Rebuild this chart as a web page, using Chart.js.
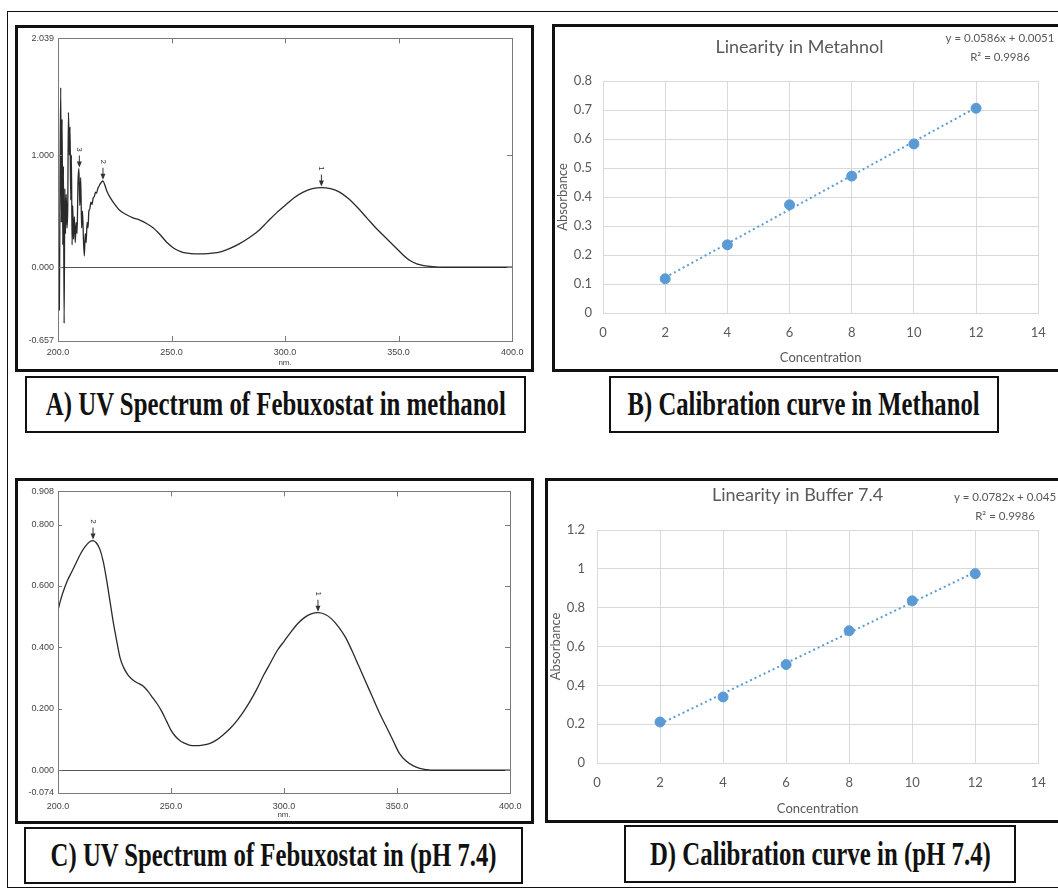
<!DOCTYPE html>
<html>
<head>
<meta charset="utf-8">
<script src="https://cdn.jsdelivr.net/npm/chart.js@4/dist/chart.umd.min.js"></script>
<style>
  html,body{margin:0;padding:0;background:#fff;}
  body{width:1058px;height:890px;overflow:hidden;position:relative;}
  .frame{position:absolute;left:7px;top:11px;width:1070px;height:877px;border:1.5px solid #111;box-sizing:border-box;}
  .panel{position:absolute;border:3px solid #111;box-sizing:border-box;background:#fff;}
  canvas{position:absolute;}
  .lbl{position:absolute;border:2.5px solid #111;box-sizing:border-box;background:#fff;display:flex;align-items:center;justify-content:center;overflow:visible;}
  .lbl span{display:inline-block;white-space:nowrap;font-family:"Liberation Serif","Times New Roman",serif;font-weight:bold;font-size:33px;color:#111;transform-origin:center center;line-height:1;}
</style>
</head>
<body>
<div class="frame"></div>

<div class="panel" style="left:15px;top:25px;width:519px;height:347px;"></div>
<div class="panel" style="left:552px;top:24px;width:520px;height:348px;"></div>
<div class="panel" style="left:15px;top:478px;width:519px;height:346px;"></div>
<div class="panel" style="left:545px;top:478px;width:530px;height:345px;"></div>

<canvas id="cA" width="511" height="339" style="left:19px;top:29px;"></canvas>
<canvas id="cB" width="503" height="342" style="left:555px;top:27px;"></canvas>
<canvas id="cC" width="511" height="338" style="left:19px;top:482px;"></canvas>
<canvas id="cD" width="510" height="339" style="left:548px;top:481px;"></canvas>

<div class="lbl" style="left:25px;top:376px;width:501px;height:57px;"><span data-w="460">A) UV Spectrum of Febuxostat in methanol</span></div>
<div class="lbl" style="left:609px;top:376px;width:390px;height:57px;"><span data-w="352">B) Calibration curve in Methanol</span></div>
<div class="lbl" style="left:24px;top:827px;width:499px;height:57px;"><span data-w="446">C) UV Spectrum of Febuxostat in (pH 7.4)</span></div>
<div class="lbl" style="left:624px;top:825px;width:392px;height:58px;"><span data-w="341">D) Calibration curve in (pH 7.4)</span></div>

<script>
// ---------- DATA ----------
// Panel A: UV spectrum in methanol
const wlA = [200.0,200.3,200.6,200.9,201.2,201.5,201.8,202.1,202.4,202.7,203.0,203.3,203.6,204.0,204.3,204.6,205.0,205.3,205.6,205.9,206.2,206.5,206.8,207.2,207.6,208.0,208.4,208.8,209.2,209.6,210.0,210.4,210.8,211.2,211.6,212.0,212.4,212.8,213.2,213.6,214.0,214.5,215.0,215.5,216.0,216.5,217.0,217.5,218.0,218.5,219.2,219.8,220.5,221.5,223,225,227,230,233,236,239,242,245,248,251,254,257,260,264,268,272,276,280,284,288,292,296,300,304,308,312,316,320,324,328,332,336,340,344,348,352,355,358,361,365,370,375,380,385,390,395,400];
const absA = [0.75,-0.20,-0.38,0.80,1.60,0.40,1.32,0.20,0.90,-0.50,
              0.70,0.30,0.65,0.35,0.55,1.38,1.00,1.25,0.60,1.00,
              0.20,0.55,0.25,0.45,0.22,0.40,0.30,0.75,0.88,0.55,
              0.80,0.35,0.50,0.25,0.10,0.30,0.22,0.40,0.35,0.50,
              0.52,0.58,0.56,0.62,0.63,0.67,0.66,0.70,0.72,0.74,
              0.76,0.77,0.74,0.68,0.62,0.56,0.51,0.47,0.44,0.42,
              0.39,0.35,0.29,0.22,0.17,0.14,0.125,0.12,0.12,0.125,
              0.14,0.17,0.21,0.26,0.32,0.40,0.48,0.55,0.62,0.67,
              0.70,0.71,0.70,0.67,0.61,0.53,0.44,0.35,0.27,0.19,
              0.11,0.06,0.03,0.015,0.005,0.0,0.0,0.0,0.0,0.0,
              0.0,0.0];
const peakNmA = [316, 219.8, 209.4];
const peakAbsA = [0.71, 0.77, 0.88];
const peakLblA = ['1','2','3'];
const yTicksA = [-0.657, 0.000, 1.000, 2.039];

// Panel C: UV spectrum in pH 7.4
const wlC = [200,201,202,204,206,208,210,212,214,215.5,217,218.5,220,221.5,223,224.5,226,227.5,229,231,233,235,237.5,240,242,244,246,248,250,252,254,256,258,261,264,267,270,273,276,279,282,285,288,291,294,297,300,303,306,309,312,315,318,321,324,327,330,333,336,339,342,345,348,351,354,357,360,363,366,370,380,390,400];
const absC = [0.52,0.55,0.575,0.615,0.645,0.675,0.705,0.728,0.744,0.748,
              0.74,0.72,0.68,0.62,0.55,0.48,0.42,0.365,0.335,0.31,
              0.295,0.285,0.275,0.255,0.235,0.215,0.19,0.16,0.13,0.11,
              0.096,0.088,0.082,0.08,0.082,0.087,0.098,0.115,0.135,0.16,
              0.19,0.225,0.265,0.31,0.35,0.39,0.42,0.45,0.477,0.497,
              0.509,0.513,0.508,0.493,0.468,0.435,0.39,0.34,0.29,0.24,
              0.19,0.145,0.1,0.055,0.03,0.015,0.006,0.002,0,0,
              0,0,0];
const peakNmC = [315, 215.5];
const peakAbsC = [0.513, 0.748];
const peakLblC = ['1','2'];
const yTicksC = [-0.074, 0.000, 0.200, 0.400, 0.600, 0.800, 0.908];

const xTicksSpec = [200, 250, 300, 350, 400];

// Panel B: calibration in methanol
const concB = [2, 4, 6, 8, 10, 12];
const absB = [0.118, 0.235, 0.373, 0.472, 0.583, 0.706];
const slopeB = 0.0586, interceptB = 0.0051;
const eqB = ['y = 0.0586x + 0.0051', 'R² = 0.9986'];
const titleB = 'Linearity in Metahnol';

// Panel D: calibration in buffer 7.4
const concD = [2, 4, 6, 8, 10, 12];
const absD = [0.211, 0.340, 0.507, 0.681, 0.835, 0.975];
const slopeD = 0.0782, interceptD = 0.045;
const eqD = ['y = 0.0782x + 0.045', 'R² = 0.9986'];
const titleD = 'Linearity in Buffer 7.4';

// ---------- PLUGINS ----------
const specDecor = {
  id: 'specDecor',
  afterDatasetsDraw(chart, args, o) {
    const {ctx, chartArea: a, scales: {x, y}} = chart;
    ctx.save();
    ctx.strokeStyle = '#7a7a7a';
    ctx.lineWidth = 1;
    ctx.strokeRect(Math.round(a.left) + 0.5, Math.round(a.top) + 0.5, Math.round(a.width), Math.round(a.height));
    ctx.beginPath();
    x.ticks.forEach(t => {
      if (t.value <= x.min || t.value >= x.max) return;
      const px = Math.round(x.getPixelForValue(t.value)) + 0.5;
      ctx.moveTo(px, a.top); ctx.lineTo(px, a.top + 5);
      ctx.moveTo(px, a.bottom); ctx.lineTo(px, a.bottom - 5);
    });
    y.ticks.forEach(t => {
      if (t.value <= y.min || t.value >= y.max) return;
      const py = Math.round(y.getPixelForValue(t.value)) + 0.5;
      ctx.moveTo(a.left, py); ctx.lineTo(a.left + 4, py);
      ctx.moveTo(a.right, py); ctx.lineTo(a.right - 5, py);
    });
    ctx.stroke();
    // peak markers
    ctx.fillStyle = '#333'; ctx.strokeStyle = '#333';
    (o.nm || []).forEach((nm, i) => {
      const px = x.getPixelForValue(nm), py = y.getPixelForValue(o.abs[i]);
      ctx.beginPath(); ctx.moveTo(px, py - 13); ctx.lineTo(px, py - 3); ctx.stroke();
      ctx.beginPath(); ctx.moveTo(px - 2.5, py - 7); ctx.lineTo(px + 2.5, py - 7); ctx.lineTo(px, py - 1); ctx.closePath(); ctx.fill();
      ctx.save();
      ctx.translate(px, py - 19);
      ctx.rotate(Math.PI / 2);
      ctx.font = '8px "Liberation Sans", Arial, sans-serif';
      ctx.textAlign = 'center'; ctx.textBaseline = 'middle';
      ctx.fillText(o.lbl[i], 0, 0);
      ctx.restore();
    });
    ctx.restore();
  }
};

const eqText = {
  id: 'eqText',
  afterDraw(chart, args, o) {
    const ctx = chart.ctx;
    ctx.save();
    ctx.font = '11.5px Lato, "Open Sans", sans-serif';
    ctx.fillStyle = '#595959';
    ctx.textAlign = 'center'; ctx.textBaseline = 'middle';
    o.lines.forEach((l, i) => ctx.fillText(l, o.cx, o.cy + i * o.dy));
    ctx.restore();
  }
};

Chart.defaults.animation = false;
Chart.defaults.responsive = false;
Chart.defaults.devicePixelRatio = 1;

// ---------- SPECTRA ----------
function specChart(id, wl, ab, yTicks, peaksNm, peaksAbs, peaksLbl, pad, tickPad) {
  const pts = wl.map((w, i) => ({x: w, y: ab[i]}));
  return new Chart(document.getElementById(id), {
    type: 'scatter',
    data: { datasets: [{ data: pts, showLine: true, pointRadius: 0, borderColor: '#2a2a2a', borderWidth: 1.3, cubicInterpolationMode: 'monotone' }] },
    options: {
      layout: { padding: pad },
      plugins: { legend: {display: false}, tooltip: {enabled: false},
        specDecor: { nm: peaksNm, abs: peaksAbs, lbl: peaksLbl } },
      scales: {
        x: {
          type: 'linear', min: 200, max: 400,
          afterBuildTicks: s => { s.ticks = xTicksSpec.map(v => ({value: v})); },
          afterFit: s => { s.height = 27; },
          ticks: { callback: v => Number(v).toFixed(1), font: {family: '"Liberation Sans", Arial, sans-serif', size: 9}, color: '#444', padding: tickPad, maxRotation: 0, autoSkip: false },
          grid: { display: false, drawTicks: false },
          border: { display: false },
          title: { display: true, text: 'nm.', font: {family: '"Liberation Sans", Arial, sans-serif', size: 8}, color: '#444', padding: 0 }
        },
        y: {
          type: 'linear', min: yTicks[0], max: yTicks[yTicks.length - 1],
          afterBuildTicks: s => { s.ticks = yTicks.map(v => ({value: v})); },
          afterFit: s => { s.width = 39; },
          ticks: { callback: v => Number(v).toFixed(3), font: {family: '"Liberation Sans", Arial, sans-serif', size: 9}, color: '#444', padding: 4, autoSkip: false },
          grid: { drawTicks: false, lineWidth: 1, color: c => (c.tick && c.tick.value === 0) ? '#555' : 'rgba(0,0,0,0)' },
          border: { display: false }
        }
      }
    },
    plugins: [specDecor]
  });
}

specChart('cA', wlA, absA, yTicksA, peakNmA, peakAbsA, peakLblA, {top: 6, right: 17, left: 0, bottom: 0}, 6.6);
specChart('cC', wlC, absC, yTicksC, peakNmC, peakAbsC, peakLblC, {top: 7, right: 18, left: 0, bottom: 0}, 8.6);

// ---------- CALIBRATION ----------
function calChart(id, conc, ab, slope, intercept, title, eq, cfg) {
  const pts = conc.map((c, i) => ({x: c, y: ab[i]}));
  const x0 = conc[0], x1 = conc[conc.length - 1];
  const fit = [{x: x0, y: slope * x0 + intercept}, {x: x1, y: slope * x1 + intercept}];
  const txt = {family: 'Lato, "Open Sans", sans-serif', size: 13};
  const fmt = v => String(parseFloat(Number(v).toFixed(2)));
  return new Chart(document.getElementById(id), {
    type: 'scatter',
    data: { datasets: [
      { data: pts, pointRadius: 5, pointHoverRadius: 5, backgroundColor: '#5B9BD5', borderColor: '#5B9BD5', order: 0 },
      { data: fit, showLine: true, pointRadius: 0, borderColor: '#5B9BD5', borderWidth: 2, borderDash: [2, 3], order: 1 }
    ]},
    options: {
      layout: { padding: {left: 0, top: 0, bottom: 0, right: cfg.padRight} },
      plugins: {
        legend: {display: false}, tooltip: {enabled: false},
        title: { display: true, text: title, color: '#595959', font: {family: 'Lato, "Open Sans", sans-serif', size: 18, weight: 'normal'}, padding: {top: cfg.tTop, bottom: cfg.tBottom} },
        eqText: { lines: eq, cx: cfg.eqX, cy: cfg.eqY, dy: 19 }
      },
      scales: {
        x: {
          type: 'linear', min: 0, max: 14,
          ticks: { stepSize: 2, font: txt, color: '#595959', padding: 12.2, maxRotation: 0, callback: fmt },
          afterFit: s => { s.height = cfg.xH; },
          grid: { color: '#D9D9D9', drawTicks: false, lineWidth: 1 },
          border: { display: true, color: '#D9D9D9' },
          title: { display: true, text: 'Concentration', font: txt, color: '#595959', padding: {top: 0, bottom: 3.2} }
        },
        y: {
          type: 'linear', min: 0, max: cfg.yMax,
          ticks: { stepSize: cfg.yStep, font: txt, color: '#595959', padding: cfg.yPad, callback: fmt },
          afterFit: s => { s.width = cfg.yW; },
          grid: { color: '#D9D9D9', drawTicks: false, lineWidth: 1 },
          border: { display: true, color: '#D9D9D9' },
          title: { display: true, text: 'Absorbance', font: txt, color: '#595959', padding: {top: 0, bottom: 0} }
        }
      }
    },
    plugins: [eqText]
  });
}

calChart('cB', concB, absB, slopeB, interceptB, titleB, eqB,
  {padRight: 14, tTop: 9, tBottom: 23.4, eqX: 445, eqY: 11, xH: 56, yMax: 0.8, yStep: 0.1, yPad: 11, yW: 48});
calChart('cD', concD, absD, slopeD, interceptD, titleD, eqD,
  {padRight: 11, tTop: 3.2, tBottom: 24.2, eqX: 457, eqY: 16, xH: 57, yMax: 1.2, yStep: 0.2, yPad: 12, yW: 49});

// ---------- Caption boxes: fit condensed bold serif text to width ----------
function fitLabels() {
  document.querySelectorAll('.lbl span').forEach(sp => {
    sp.style.transform = 'none';
    const w = sp.getBoundingClientRect().width;
    const target = +sp.dataset.w;
    sp.style.transform = 'scaleX(' + (target / w).toFixed(4) + ')';
  });
}
fitLabels();
if (document.fonts && document.fonts.ready) document.fonts.ready.then(fitLabels);
</script>
</body>
</html>
